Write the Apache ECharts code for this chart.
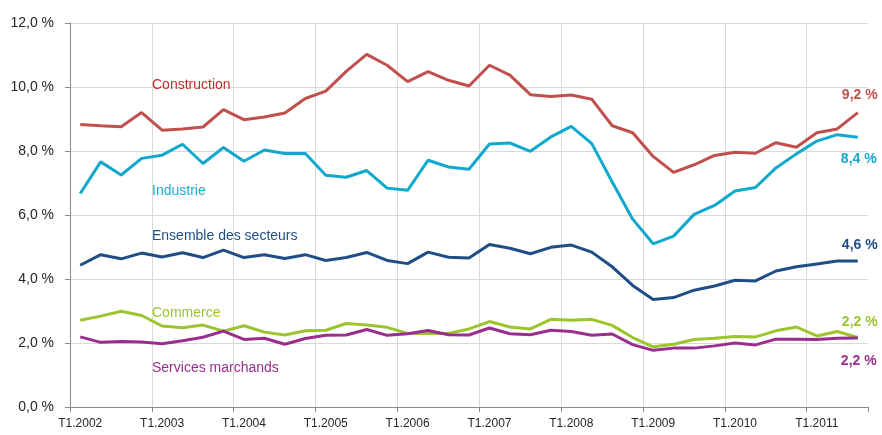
<!DOCTYPE html>
<html>
<head>
<meta charset="utf-8">
<script src="https://cdn.jsdelivr.net/npm/echarts@6/dist/echarts.min.js"></script>
<style>
  html, body { margin: 0; padding: 0; background: #fff; }
  #chart { width: 882px; height: 435px; }
</style>
</head>
<body>
<div id="chart"></div>
<script>
// trimestres T1.2002 -> T3.2011
var quarters = []
for (var y = 2002; y <= 2011; y++) {
  for (var q = 1; q <= 4; q++) {
    if (y === 2011 && q > 3) break
    quarters.push('T' + q + '.' + y)
  }
}

var construction = [8.83, 8.79, 8.76, 9.2, 8.65, 8.69, 8.75, 9.29, 8.98, 9.06, 9.19,
  9.64, 9.87, 10.49, 11.02, 10.68, 10.17, 10.48, 10.21, 10.03, 10.68, 10.37, 9.76, 9.7, 9.75,
  9.62, 8.79, 8.57, 7.83, 7.33, 7.57, 7.86, 7.96, 7.93, 8.26, 8.12, 8.57, 8.69, 9.2]

var industrie = [6.67, 7.66, 7.25, 7.77, 7.87, 8.21, 7.61, 8.11, 7.68, 8.03, 7.92,
  7.92, 7.24, 7.18, 7.39, 6.84, 6.77, 7.71, 7.5, 7.43, 8.22, 8.25, 7.99, 8.44, 8.77,
  8.23, 7.03, 5.87, 5.1, 5.34, 6.02, 6.3, 6.75, 6.86, 7.47, 7.91, 8.31, 8.51, 8.43]

var ensemble = [4.43, 4.76, 4.63, 4.81, 4.69, 4.82, 4.67, 4.9, 4.67, 4.76, 4.64,
  4.76, 4.58, 4.67, 4.83, 4.58, 4.48, 4.84, 4.68, 4.66, 5.08, 4.96, 4.79, 4.99, 5.06,
  4.84, 4.38, 3.8, 3.36, 3.42, 3.65, 3.78, 3.96, 3.94, 4.25, 4.38, 4.47, 4.56, 4.56]

var commerce = [2.71, 2.84, 2.99, 2.86, 2.53, 2.48, 2.56, 2.37, 2.54, 2.34, 2.25,
  2.38, 2.4, 2.61, 2.56, 2.49, 2.3, 2.3, 2.3, 2.44, 2.67, 2.5, 2.44, 2.74, 2.71,
  2.74, 2.55, 2.17, 1.88, 1.96, 2.11, 2.15, 2.2, 2.19, 2.38, 2.5, 2.22, 2.36, 2.17]

var services = [2.19, 2.02, 2.05, 2.03, 1.98, 2.07, 2.18, 2.37, 2.11, 2.15, 1.96,
  2.14, 2.24, 2.25, 2.42, 2.24, 2.29, 2.39, 2.26, 2.25, 2.47, 2.29, 2.26, 2.4, 2.36,
  2.24, 2.28, 1.95, 1.77, 1.84, 1.84, 1.91, 2.0, 1.94, 2.12, 2.12, 2.11, 2.15, 2.16]

var yTicks = [0, 2, 4, 6, 8, 10, 12]

var font = '"Liberation Sans", Arial, sans-serif'

function fr (v) {
  return v.toFixed(1).replace('.', ',') + ' %'
}

// ligne + etiquette de fin de serie
function makeSeries (name, data, color, offset, z) {
  var last = data.length - 1
  return {
    name: name,
    type: 'line',
    data: data,
    symbol: 'none',
    z: z,
    lineStyle: { color: color, width: 3 },
    markPoint: {
      symbol: 'circle',
      symbolSize: 0,
      silent: true,
      data: [{ coord: [last, data[last]] }],
      label: {
        show: true,
        position: 'inside',
        offset: offset,
        formatter: function () { return fr(data[last]) },
        color: color,
        fontSize: 14,
        fontWeight: 'bold',
        fontFamily: font
      }
    }
  }
}

function nameLabel (text, x, y, color) {
  return {
    type: 'text',
    x: x,
    y: y,
    z: 100,
    style: {
      text: text,
      fill: color,
      font: '14px ' + font,
      verticalAlign: 'middle'
    }
  }
}

var chart = echarts.init(document.getElementById('chart'))

var option = {
  animation: false,
  grid: { left: 70, right: 14, top: 23, bottom: 28 },
  xAxis: {
    type: 'category',
    data: quarters,
    boundaryGap: true,
    axisLine: { lineStyle: { color: '#898989', width: 1 } },
    axisTick: { show: true, interval: 3, length: 5, lineStyle: { color: '#898989' } },
    axisLabel: { interval: 3, margin: 11, color: '#262626', fontSize: 12, fontFamily: font },
    splitLine: { show: true, interval: 3, showMaxLine: false, lineStyle: { color: '#d9d9d9', width: 1 } }
  },
  yAxis: {
    type: 'value',
    min: yTicks[0],
    max: yTicks[yTicks.length - 1],
    interval: 2,
    axisLine: { show: true, lineStyle: { color: '#898989', width: 1 } },
    axisTick: { show: true, length: 5, lineStyle: { color: '#898989' } },
    axisLabel: { margin: 16, color: '#262626', fontSize: 14, fontFamily: font, formatter: fr },
    splitLine: { show: true, lineStyle: { color: '#d9d9d9', width: 1 } }
  },
  graphic: [
    nameLabel('Construction', 152, 85, '#C62B2B'),
    nameLabel('Industrie', 152, 191, '#1AAFD0'),
    nameLabel('Ensemble des secteurs', 152, 236, '#1F4E87'),
    nameLabel('Commerce', 152, 313, '#9BC42D'),
    nameLabel('Services marchands', 152, 368, '#9A2E8E')
  ],
  series: [
    makeSeries('Construction', construction, '#C0504D', [2, -17], 3),
    makeSeries('Industrie', industrie, '#10A9CD', [1, 22], 3),
    makeSeries('Ensemble des secteurs', ensemble, '#1F4E87', [2, -16], 3),
    makeSeries('Commerce', commerce, '#9BC42D', [2, -15], 3),
    makeSeries('Services marchands', services, '#9A2E8E', [1, 23], 4)
  ]
}

chart.setOption(option)
</script>
</body>
</html>
